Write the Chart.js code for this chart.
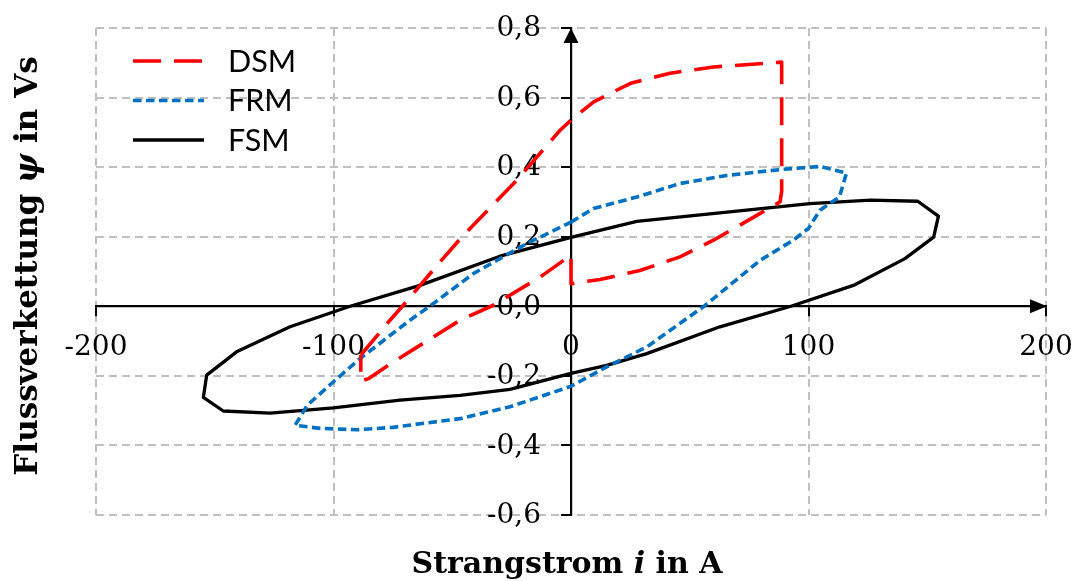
<!DOCTYPE html>
<html>
<head>
<meta charset="utf-8">
<script src="https://cdn.jsdelivr.net/npm/chart.js@4.4.1/dist/chart.umd.min.js"></script>
<style>
html,body{margin:0;padding:0;background:#ffffff;}
canvas{display:block;}
</style>
</head>
<body>
<canvas id="c" width="1079" height="581"></canvas>
<script>
// ---- data ----
const seriesNames = ['DSM', 'FRM', 'FSM'];

const dsmI   = [-88.5, -76.2, -71.0, -55.2, -45.3, -22.9, -4.6, 0.0, 9.4, 19.2, 25.5, 41.7, 60.0, 88.7, 88.7, 88.0, 73.3, 60.0, 45.9, 29.0, 12.2, 0.0, 0.0, -13.0, -32.7, -46.7, -75.5, -85.3, -88.5, -88.5];
const dsmPsi = [-0.140, -0.040, 0.000, 0.127, 0.204, 0.362, 0.506, 0.535, 0.587, 0.621, 0.642, 0.670, 0.688, 0.702, 0.330, 0.300, 0.242, 0.190, 0.142, 0.103, 0.077, 0.065, 0.147, 0.084, 0.003, -0.040, -0.163, -0.208, -0.215, -0.140];

const frmI   = [0.0, 9.4, 27.7, 45.9, 65.5, 88.0, 104.8, 116.0, 113.0, 104.8, 100.0, 93.6, 79.6, 56.0, 31.9, 15.0, 0.0, -25.7, -46.7, -75.0, -90.0, -105.7, -116.2, -114.0, -111.0, -100.0, -88.8, -67.8, -59.5, -41.1, -18.7, 0.0];
const frmPsi = [0.242, 0.281, 0.314, 0.353, 0.376, 0.393, 0.402, 0.383, 0.314, 0.276, 0.224, 0.190, 0.132, 0.000, -0.117, -0.174, -0.230, -0.289, -0.323, -0.348, -0.355, -0.351, -0.342, -0.318, -0.284, -0.217, -0.150, -0.040, 0.000, 0.094, 0.180, 0.242];

const fsmI   = [0.0, 27.7, 100.6, 126.0, 146.0, 154.7, 152.7, 140.6, 118.9, 92.6, 62.7, 31.9, 15.0, 0.0, -25.7, -46.7, -72.0, -100.0, -126.7, -146.4, -154.8, -153.4, -140.8, -118.3, -93.0, -63.6, -29.9, 0.0];
const fsmPsi = [0.198, 0.244, 0.295, 0.305, 0.302, 0.259, 0.199, 0.137, 0.060, 0.000, -0.059, -0.136, -0.170, -0.193, -0.239, -0.256, -0.270, -0.292, -0.307, -0.301, -0.262, -0.198, -0.131, -0.059, 0.000, 0.060, 0.144, 0.198];

const xMin = -200, xMax = 200, xStep = 100;
const yMin = -0.6, yMax = 0.8, yStep = 0.2;

const xTitleParts = [{t: 'Strangstrom ', it: false}, {t: 'i', it: true}, {t: ' in A', it: false}];
const yTitleParts = [{t: 'Flussverkettung ', it: false}, {t: 'ψ', it: true}, {t: ' in Vs', it: false}];

// ---- helpers ----
const pts = (xs, ys) => xs.map((x, i) => ({x: x, y: ys[i]}));
const isZero = v => Math.abs(v) < 1e-9;
const gridColor = ctx => (ctx.tick && isZero(ctx.tick.value)) ? 'rgba(0,0,0,0)' : '#c0c0c0';
const fmtX = v => String(Math.round(v));
const fmtY = v => (isZero(v) ? 0 : v).toFixed(1).replace('.', ',');
const noPad = s => { s.paddingLeft = 0; s.paddingRight = 0; s.paddingTop = 0; s.paddingBottom = 0; };

const SERIF = '"DejaVu Serif", "Liberation Serif", serif';

function drawRich(ctx, parts, cx, baseY, size) {
  const fonts = parts.map(p => (p.it ? 'italic bold ' : 'bold ') + size + 'px ' + SERIF);
  let total = 0;
  const widths = parts.map((p, i) => { ctx.font = fonts[i]; const w = ctx.measureText(p.t).width; total += w; return w; });
  let x = cx - total / 2;
  ctx.textAlign = 'left';
  ctx.textBaseline = 'alphabetic';
  parts.forEach((p, i) => { ctx.font = fonts[i]; ctx.fillText(p.t, x, baseY); x += widths[i]; });
}

const decor = {
  id: 'decor',
  beforeDatasetsDraw(chart) {
    const ctx = chart.ctx, sx = chart.scales.x, sy = chart.scales.y;
    const x0 = sx.getPixelForValue(0), y0 = sy.getPixelForValue(0);
    const xe = sx.getPixelForValue(xMax) + 1, ye = sy.getPixelForValue(yMax);
    ctx.save();
    ctx.fillStyle = '#000';
    ctx.beginPath();
    ctx.moveTo(xe, y0); ctx.lineTo(xe - 17, y0 - 7); ctx.lineTo(xe - 17, y0 + 7); ctx.closePath(); ctx.fill();
    ctx.beginPath();
    ctx.moveTo(x0, ye); ctx.lineTo(x0 - 7.5, ye + 15); ctx.lineTo(x0 + 7.5, ye + 15); ctx.closePath(); ctx.fill();
    ctx.restore();
  },
  afterDraw(chart) {
    const ctx = chart.ctx;
    ctx.save();
    // legend
    chart.data.datasets.forEach((ds, i) => {
      const y = 61 + i * 39.5;
      ctx.save();
      ctx.strokeStyle = ds.borderColor;
      ctx.lineWidth = ds.borderWidth;
      ctx.setLineDash(ds.borderDash || []);
      ctx.beginPath(); ctx.moveTo(133, y); ctx.lineTo(204, y); ctx.stroke();
      ctx.restore();
      ctx.fillStyle = '#000';
      ctx.font = '30.5px Lato, "Open Sans", sans-serif';
      ctx.textAlign = 'left';
      ctx.textBaseline = 'middle';
      ctx.fillText(ds.label, 228, y + 1);
    });
    // axis titles
    ctx.fillStyle = '#000';
    drawRich(ctx, xTitleParts, 567, 573, 30);
    ctx.translate(37, 266);
    ctx.rotate(-Math.PI / 2);
    drawRich(ctx, yTitleParts, 0, 0, 31);
    ctx.restore();
  }
};

const mk = (name, xs, ys, color, dash, width) => ({
  label: name, data: pts(xs, ys), showLine: true, borderColor: color, backgroundColor: color,
  borderWidth: width, borderDash: dash, pointRadius: 0, pointHoverRadius: 0, tension: 0,
  fill: false, borderJoinStyle: 'round', borderCapStyle: 'butt'
});

new Chart(document.getElementById('c'), {
  type: 'scatter',
  data: {
    datasets: [
      mk(seriesNames[0], dsmI, dsmPsi, '#ff0000', [28, 13], 3.6),
      mk(seriesNames[1], frmI, frmPsi, '#0070c0', [8.5, 4.5], 3.6),
      mk(seriesNames[2], fsmI, fsmPsi, '#000000', [], 3.3)
    ]
  },
  options: {
    responsive: false,
    devicePixelRatio: 1,
    animation: false,
    layout: {padding: {left: 96, top: 28, right: 33, bottom: 66}},
    plugins: {legend: {display: false}, tooltip: {enabled: false}},
    scales: {
      x: {
        type: 'linear', min: xMin, max: xMax, position: {y: 0}, afterFit: noPad,
        ticks: {stepSize: xStep, autoSkip: false, maxRotation: 0, callback: fmtX, color: '#000',
                font: {family: SERIF, size: 28}, padding: 16},
        grid: {color: gridColor, lineWidth: 2, tickColor: '#000', tickLength: 9, tickWidth: 2, drawTicks: true},
        border: {display: true, color: '#000', width: 2.2, dash: [8, 5]}
      },
      y: {
        type: 'linear', min: yMin, max: yMax, position: {x: 0}, afterFit: noPad,
        ticks: {stepSize: yStep, display: false},
        grid: {color: gridColor, lineWidth: 2, tickColor: '#000', tickLength: 9, tickWidth: 2, drawTicks: true},
        border: {display: true, color: '#000', width: 2.2, dash: [8, 5]}
      },
      yLabels: {
        type: 'linear', axis: 'y', min: yMin, max: yMax, position: {x: -12.6}, afterFit: noPad,
        ticks: {stepSize: yStep, autoSkip: false, callback: fmtY, color: '#000',
                font: {family: SERIF, size: 28}, padding: 0, labelOffset: 1},
        grid: {display: false, drawTicks: false},
        border: {display: false}
      }
    }
  },
  plugins: [decor]
});
</script>
</body>
</html>
